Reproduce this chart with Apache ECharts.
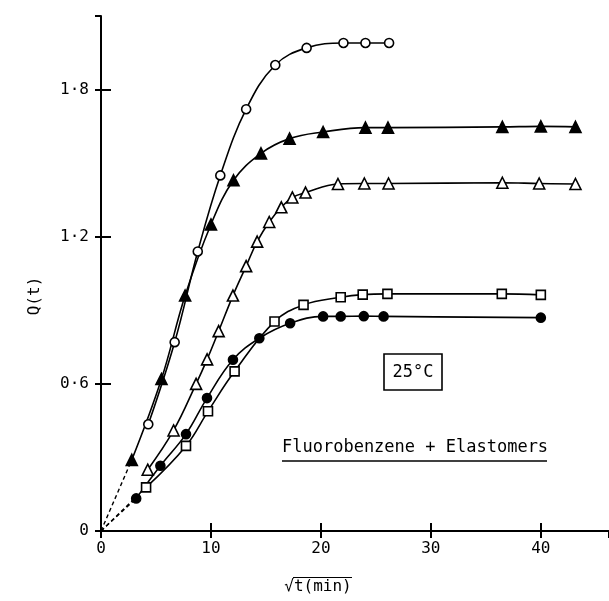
<!DOCTYPE html>
<html>
<head>
<meta charset="utf-8">
<script src="https://cdn.jsdelivr.net/npm/echarts@6/dist/echarts.min.js"></script>
<style>
  html, body { margin: 0; padding: 0; background: #fff; }
  #chart { width: 609px; height: 601px; }
</style>
</head>
<body>
<div id="chart"></div>
<script>
// x = sqrt(t / min), y = Q(t)
const openCircle = [[4.3, 0.435], [6.7, 0.77], [8.8, 1.14], [10.85, 1.45], [13.2, 1.72], [15.85, 1.9], [18.7, 1.97], [22.05, 1.99], [24.05, 1.99], [26.2, 1.99]];
const filledTriangle = [[2.8, 0.29], [5.5, 0.62], [7.65, 0.96], [10.0, 1.25], [12.05, 1.43], [14.55, 1.54], [17.15, 1.6], [20.2, 1.627], [24.05, 1.645], [26.1, 1.645], [36.5, 1.648], [40.0, 1.65], [43.15, 1.648]];
const openTriangle = [[4.25, 0.25], [6.6, 0.41], [8.65, 0.6], [9.65, 0.7], [10.7, 0.815], [12.0, 0.96], [13.2, 1.08], [14.2, 1.18], [15.3, 1.26], [16.4, 1.32], [17.4, 1.36], [18.6, 1.38], [21.55, 1.415], [23.95, 1.417], [26.15, 1.417], [36.5, 1.42], [39.85, 1.417], [43.15, 1.415]];
const openSquare = [[4.1, 0.178], [7.73, 0.347], [9.73, 0.488], [12.15, 0.651], [15.78, 0.854], [18.42, 0.922], [21.8, 0.953], [23.8, 0.964], [26.05, 0.967], [36.45, 0.967], [40.0, 0.963]];
const filledCircle = [[3.2, 0.133], [5.4, 0.266], [7.73, 0.395], [9.64, 0.542], [12.0, 0.698], [14.4, 0.786], [17.2, 0.847], [20.2, 0.875], [21.8, 0.875], [23.9, 0.876], [25.7, 0.875], [40.0, 0.87]];

const xMax = 46.2;
const yMax = 2.1;
const FONT = "DejaVu Sans Mono";

const chart = echarts.init(document.getElementById("chart"));

function curve(data, symbol, filled, size) {
  return {
    type: "line",
    data: data,
    smooth: 0.4,
    symbol: symbol,
    symbolSize: size,
    showAllSymbol: true,
    lineStyle: { color: "#000", width: 1.6 },
    itemStyle: { color: filled ? "#000" : "#fff", borderColor: "#000", borderWidth: 1.6 },
    z: 3,
  };
}

// dashed extrapolation back to the origin
function dash(data) {
  return {
    type: "line",
    data: [[0, 0], data[0]],
    symbol: "none",
    lineStyle: { color: "#000", width: 1.4, type: [4, 3] },
    z: 2,
  };
}

const axisCommon = {
  type: "value",
  splitLine: { show: false },
  axisLine: { lineStyle: { color: "#000", width: 2 } },
  axisTick: { inside: true, length: 8, lineStyle: { color: "#000", width: 2 } },
};

const option = {
  backgroundColor: "#fff",
  animation: false,
  grid: { left: 101, top: 16, right: 0, bottom: 70 },
  xAxis: [
    {
      ...axisCommon,
      position: "bottom",
      min: 0, max: xMax, interval: 10,
      axisLabel: { color: "#000", fontSize: 16, fontFamily: FONT, margin: 10, showMaxLabel: false },
    },
    {
      ...axisCommon,
      position: "top",
      min: 0, max: xMax, interval: 10,
      axisTick: { inside: true, length: 7, lineStyle: { color: "#000", width: 2 } },
      axisLabel: { show: false },
    },
  ],
  yAxis: [
    {
      ...axisCommon,
      position: "left",
      min: 0, max: yMax, interval: 0.6,
      axisTick: { inside: true, length: 10, lineStyle: { color: "#000", width: 2 } },
      axisLabel: {
        color: "#000", fontSize: 16, fontFamily: FONT, margin: 12, showMaxLabel: false,
        formatter: (v) => (v === 0 ? "0" : v.toFixed(1).replace(".", "·")),
      },
    },
    {
      ...axisCommon,
      position: "right",
      min: 0, max: yMax, interval: 0.6,
      axisLine: { show: false },
      axisTick: { inside: true, length: 6, lineStyle: { color: "#000", width: 2 } },
      axisLabel: { show: false },
    },
  ],
  graphic: [
    {
      type: "text", x: 318, y: 587,
      style: { text: "√t(min)", fill: "#000", fontSize: 16, fontFamily: FONT, align: "center", verticalAlign: "middle" },
    },
    {
      // radical bar over t(min)
      type: "line", shape: { x1: 293, y1: 577.5, x2: 352, y2: 577.5 },
      style: { stroke: "#000", lineWidth: 1.2 },
    },
    {
      type: "text", x: 35, y: 296, rotation: Math.PI / 2,
      style: { text: "Q(t)", fill: "#000", fontSize: 16, fontFamily: FONT, align: "center", verticalAlign: "middle" },
    },
    {
      type: "rect", shape: { x: 384, y: 354, width: 58, height: 36 },
      style: { fill: "none", stroke: "#000", lineWidth: 1.6 },
    },
    {
      type: "text", x: 413, y: 373,
      style: { text: "25°C", fill: "#000", fontSize: 17, fontFamily: FONT, align: "center", verticalAlign: "middle" },
    },
    {
      type: "text", x: 282, y: 448,
      style: { text: "Fluorobenzene + Elastomers", fill: "#000", fontSize: 17, fontFamily: FONT, align: "left", verticalAlign: "middle" },
    },
    {
      type: "line", shape: { x1: 282, y1: 461, x2: 547, y2: 461 },
      style: { stroke: "#000", lineWidth: 1.6 },
    },
  ],
  series: [
    dash(filledTriangle), dash(openSquare), dash(filledCircle),
    curve(openCircle, "circle", false, 9),
    curve(filledTriangle, "triangle", true, 11),
    curve(openTriangle, "triangle", false, 11),
    curve(openSquare, "rect", false, 9),
    curve(filledCircle, "circle", true, 9),
  ],
};

chart.setOption(option);
</script>
</body>
</html>
